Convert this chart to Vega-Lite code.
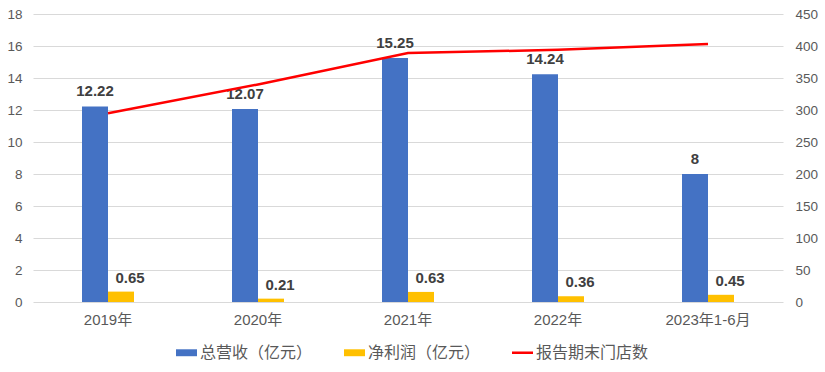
{
  "$schema": "https://vega.github.io/schema/vega-lite/v6.json",
  "autosize": "none",
  "width": 750,
  "height": 288,
  "padding": {"left": 33, "top": 14, "right": 42, "bottom": 70},
  "background": "white",
  "config": {
    "font": "Liberation Sans, Noto Sans CJK SC, sans-serif",
    "view": {"stroke": null},
    "axis": {"labelColor": "#595959", "labelFont": "Liberation Sans, Noto Sans CJK SC, sans-serif"}
  },
  "data": {
    "values": [
      {"cat": "2019年", "series": "总营收（亿元）", "value": 12.22},
      {"cat": "2020年", "series": "总营收（亿元）", "value": 12.07},
      {"cat": "2021年", "series": "总营收（亿元）", "value": 15.25},
      {"cat": "2022年", "series": "总营收（亿元）", "value": 14.24},
      {"cat": "2023年1-6月", "series": "总营收（亿元）", "value": 8},
      {"cat": "2019年", "series": "净利润（亿元）", "value": 0.65},
      {"cat": "2020年", "series": "净利润（亿元）", "value": 0.21},
      {"cat": "2021年", "series": "净利润（亿元）", "value": 0.63},
      {"cat": "2022年", "series": "净利润（亿元）", "value": 0.36},
      {"cat": "2023年1-6月", "series": "净利润（亿元）", "value": 0.45},
      {"cat": "2019年", "series": "报告期末门店数", "value": 295},
      {"cat": "2020年", "series": "报告期末门店数", "value": 340},
      {"cat": "2021年", "series": "报告期末门店数", "value": 389},
      {"cat": "2022年", "series": "报告期末门店数", "value": 394},
      {"cat": "2023年1-6月", "series": "报告期末门店数", "value": 403}
    ]
  },
  "encoding": {
    "x": {
      "field": "cat", "type": "nominal", "sort": null,
      "scale": {"paddingInner": 0, "paddingOuter": 0},
      "axis": {"title": null, "labelAngle": 0, "domain": false, "ticks": false, "labelPadding": 10, "labelFontSize": 15, "labelColor": "#595959"}
    }
  },
  "layer": [
    {
      "transform": [{"filter": "datum.series !== '报告期末门店数'"}],
      "encoding": {
        "xOffset": {"field": "series", "type": "nominal", "sort": ["总营收（亿元）", "净利润（亿元）"], "scale": {"range": [49, 101], "paddingInner": 0, "paddingOuter": 0}},
        "y": {
          "field": "value", "type": "quantitative",
          "scale": {"domain": [0, 18], "nice": false},
          "axis": {"title": null, "values": [0, 2, 4, 6, 8, 10, 12, 14, 16, 18], "domain": false, "ticks": false, "labelPadding": 11, "labelFontSize": 13.5, "gridColor": "#D9D9D9", "gridWidth": 1}
        }
      },
      "layer": [
        {
          "mark": {"type": "bar"},
          "encoding": {
            "color": {
              "field": "series", "type": "nominal",
              "scale": {"domain": ["总营收（亿元）", "净利润（亿元）", "报告期末门店数"], "range": ["#4472C4", "#FFC000", "#FF0000"]},
              "legend": {
                "title": null, "orient": "none", "direction": "horizontal",
                "legendX": 143, "legendY": 328,
                "symbolSize": 441, "labelFontSize": 16, "labelColor": "#595959", "labelOffset": 3,
                "columnPadding": 31, "padding": 0,
                "labelFont": "Liberation Sans, Noto Sans CJK SC, sans-serif",
                "encode": {
                  "symbols": {
                    "update": {
                      "shape": {"signal": "datum.value === '报告期末门店数' ? 'M-1,-0.12H1V0.12H-1Z' : 'M-1,-0.33H1V0.33H-1Z'"},
                      "fill": {"scale": "color", "field": "value"},
                      "stroke": {"value": "transparent"},
                      "strokeWidth": {"value": 0},
                      "opacity": {"value": 1}
                    }
                  }
                }
              }
            }
          }
        },
        {
          "transform": [{"filter": "datum.series === '总营收（亿元）'"}],
          "mark": {"type": "text", "baseline": "alphabetic", "dy": -10, "fontSize": 15, "fontWeight": "bold", "color": "#404040", "font": "Liberation Sans, Noto Sans CJK SC, sans-serif"},
          "encoding": {"text": {"field": "value", "type": "quantitative"}}
        },
        {
          "transform": [{"filter": "datum.series === '净利润（亿元）'"}],
          "mark": {"type": "text", "baseline": "alphabetic", "dy": -9, "dx": 9, "fontSize": 15, "fontWeight": "bold", "color": "#404040", "font": "Liberation Sans, Noto Sans CJK SC, sans-serif"},
          "encoding": {"text": {"field": "value", "type": "quantitative", "format": ".2f"}}
        }
      ]
    },
    {
      "transform": [{"filter": "datum.series === '报告期末门店数'"}],
      "mark": {"type": "line", "strokeWidth": 2.5},
      "encoding": {
        "y": {
          "field": "value", "type": "quantitative",
          "scale": {"domain": [0, 450], "nice": false},
          "axis": {"title": null, "orient": "right", "values": [0, 50, 100, 150, 200, 250, 300, 350, 400, 450], "grid": false, "domain": false, "ticks": false, "labelPadding": 12, "labelFontSize": 13.5}
        },
        "color": {"field": "series", "type": "nominal"}
      }
    }
  ],
  "resolve": {"scale": {"y": "independent"}}
}
